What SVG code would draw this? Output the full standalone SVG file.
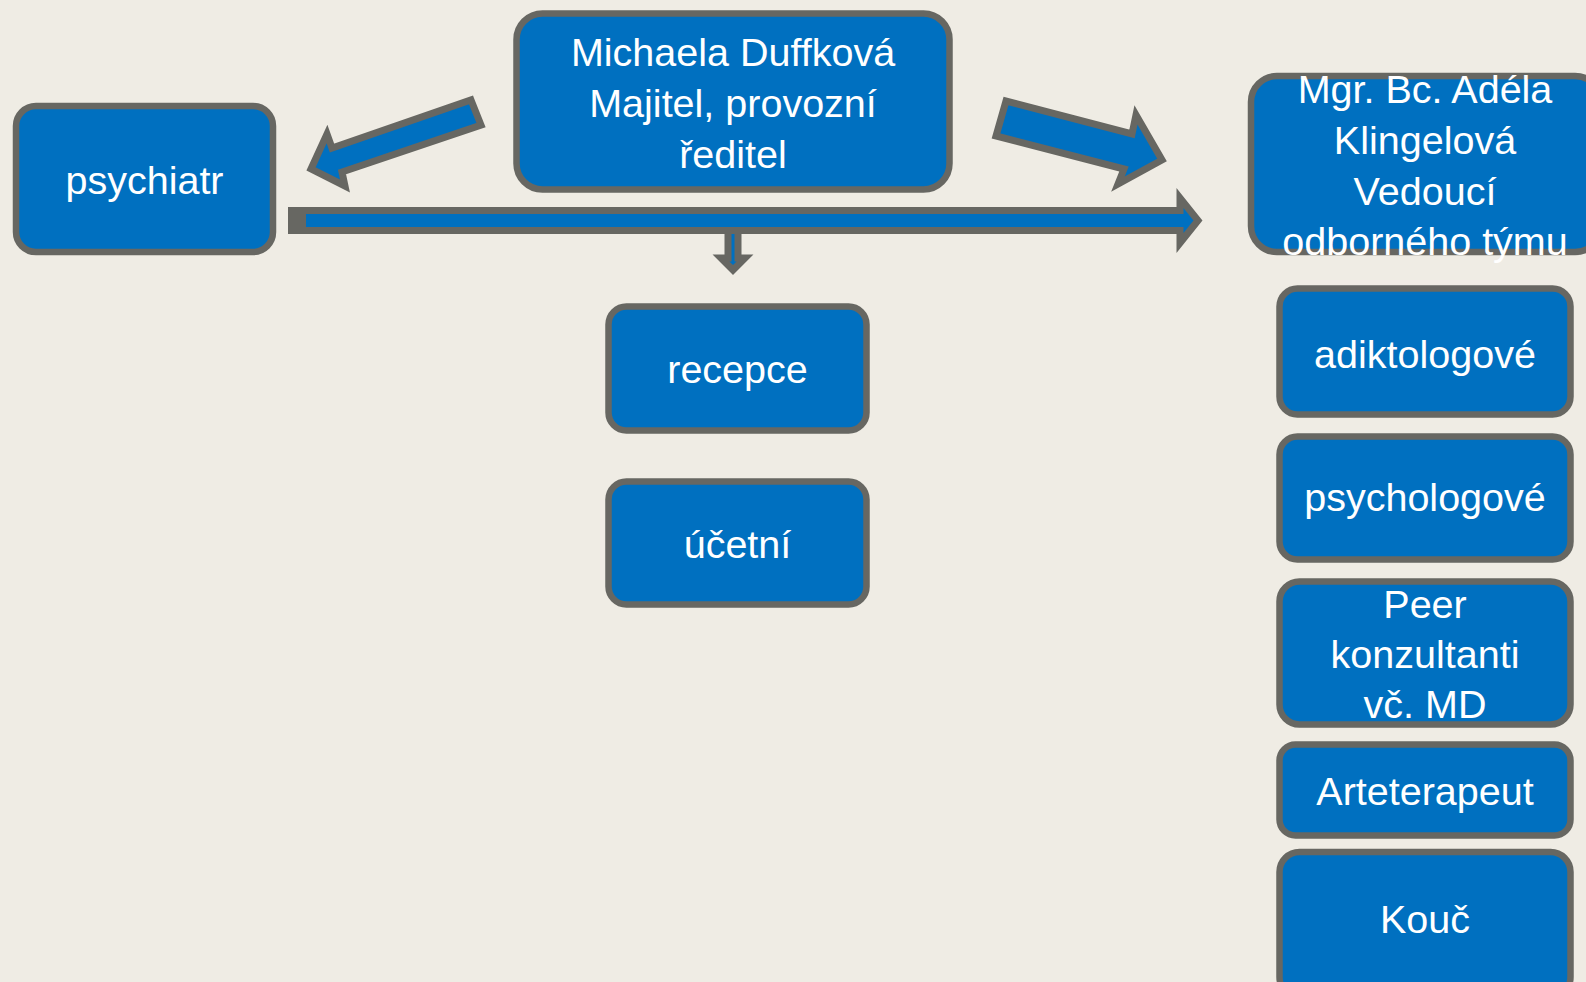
<svg xmlns="http://www.w3.org/2000/svg" width="1586" height="982" viewBox="0 0 1586 982">
<style>
.box{fill:#0070C0;stroke:#676762;stroke-width:6.5}
.arr{fill:#0070C0;stroke:#676762;stroke-width:7;stroke-linejoin:miter}
.t{fill:#FFFFFF;font-family:"Liberation Sans",Arial,sans-serif;font-size:39.5px;text-anchor:middle}
</style>
<rect x="0" y="0" width="1586" height="982" fill="#EFECE4"/>
<g id="connectors">
  <polygon class="arr" points="471,100 481,125 342,172 345,186 311,169 327,134 332,148"/>
  <polygon class="arr" points="1006,101 996,136 1124,169 1118,184 1162,160 1136,115 1132,134"/>
  <polygon class="arr" points="728,230 738,230 738,258 745,258 733,270 721,258 728,258"/>
  <polygon class="arr" points="291.5,210.5 1180,210.5 1180,198 1198,220.5 1180,243 1180,230.5 291.5,230.5"/>
  <rect x="288" y="207" width="18" height="27" fill="#676762"/>
</g>
<g id="michaela">
  <rect class="box" x="516.5" y="13.5" width="433" height="176" rx="26"/>
  <text class="t" x="733" y="66">Michaela Duffková</text>
  <text class="t" x="733" y="117">Majitel, provozní</text>
  <text class="t" x="733" y="168">ředitel</text>
</g>
<g id="psychiatr">
  <rect class="box" x="16" y="106" width="257" height="146" rx="20"/>
  <text class="t" x="144.5" y="194">psychiatr</text>
</g>
<g id="adela">
  <rect class="box" x="1251" y="76" width="350" height="176" rx="26"/>
  <text class="t" x="1425" y="103">Mgr. Bc. Adéla</text>
  <text class="t" x="1425" y="154">Klingelová</text>
  <text class="t" x="1425" y="205">Vedoucí</text>
  <text class="t" x="1425" y="255">odborného týmu</text>
</g>
<g id="recepce">
  <rect class="box" x="608.5" y="306.5" width="258" height="124" rx="18"/>
  <text class="t" x="737.5" y="383">recepce</text>
</g>
<g id="ucetni">
  <rect class="box" x="608.5" y="481.5" width="258" height="123" rx="18"/>
  <text class="t" x="737.5" y="558">účetní</text>
</g>
<g id="adiktologove">
  <rect class="box" x="1279.5" y="288.5" width="291" height="126" rx="18"/>
  <text class="t" x="1425" y="368">adiktologové</text>
</g>
<g id="psychologove">
  <rect class="box" x="1279.5" y="436.5" width="291" height="123" rx="18"/>
  <text class="t" x="1425" y="511">psychologové</text>
</g>
<g id="peer">
  <rect class="box" x="1279.5" y="581.5" width="291" height="143" rx="20"/>
  <text class="t" x="1425" y="618">Peer</text>
  <text class="t" x="1425" y="668">konzultanti</text>
  <text class="t" x="1425" y="718">vč. MD</text>
</g>
<g id="arteterapeut">
  <rect class="box" x="1279.5" y="744.5" width="291" height="91" rx="16"/>
  <text class="t" x="1425" y="805">Arteterapeut</text>
</g>
<g id="kouc">
  <rect class="box" x="1279.5" y="852" width="291" height="145" rx="20"/>
  <text class="t" x="1425" y="933">Kouč</text>
</g>
</svg>
